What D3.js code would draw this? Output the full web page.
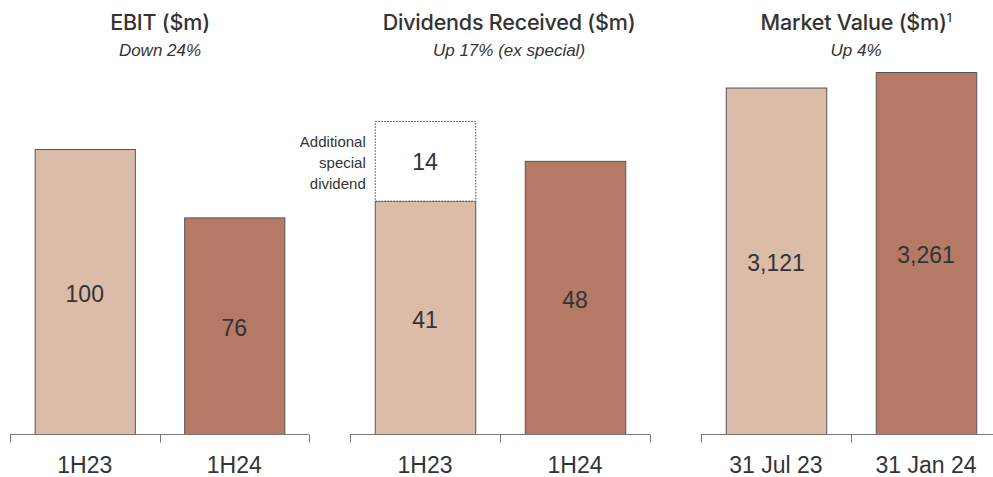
<!DOCTYPE html>
<html>
<head>
<meta charset="utf-8">
<script src="https://cdn.jsdelivr.net/npm/d3@7"></script>
<style>
  html, body { margin: 0; padding: 0; background: #ffffff; }
  svg { display: block; }
</style>
</head>
<body>
<svg id="chart" width="993" height="477"></svg>
<script>
// Panel data
const ebitCategories = ["1H23", "1H24"];
const ebitValues = [100, 76];

const dividendCategories = ["1H23", "1H24"];
const dividendValues = [41, 48];
const specialDividend = [14, 0];

const marketCategories = ["31 Jul 23", "31 Jan 24"];
const marketValues = [3121, 3261];
const marketLabels = ["3,121", "3,261"];

const titles = ["EBIT ($m)", "Dividends Received ($m)", "Market Value ($m)"];
const subtitles = ["Down 24%", "Up 17% (ex special)", "Up 4%"];
const specialNote = ["Additional", "special", "dividend"];

const lightFill = "#dbbca8";
const darkFill = "#b47a66";
const barStroke = "#555555";
const textColor = "#333333";
const bodyFont = "Liberation Sans, Arial, sans-serif";
const titleFont = "Inter, Liberation Sans, sans-serif";

const svg = d3.select("#chart");
const baseline = 434;

const panels = [
  { x0: 10, x1: 309, cats: ebitCategories, vals: ebitValues, labels: ebitValues.map(String), max: 100, top: 149, title: titles[0], sub: subtitles[0], tcx: 160 },
  { x0: 350, x1: 650, cats: dividendCategories, vals: dividendValues, labels: dividendValues.map(String), max: 55, top: 121, title: titles[1], sub: subtitles[1], extra: specialDividend, tcx: 509 },
  { x0: 701, x1: 1001, cats: marketCategories, vals: marketValues, labels: marketLabels, max: 3261, top: 72, title: titles[2], sub: subtitles[2], sup: "1", tcx: 856 }
];

panels.forEach(p => {
  const g = svg.append("g");
  const x = d3.scaleBand().domain(p.cats).range([p.x0, p.x1]).paddingInner(0.33).paddingOuter(0.165);
  const y = d3.scaleLinear().domain([0, p.max]).range([baseline, p.top]);
  const fills = [lightFill, darkFill];

  // bars
  g.selectAll("rect.bar").data(p.cats).join("rect")
    .attr("class", "bar")
    .attr("x", d => x(d) + 0.5)
    .attr("width", x.bandwidth())
    .attr("y", (d, i) => y(p.vals[i]) + 0.5)
    .attr("height", (d, i) => baseline - y(p.vals[i]))
    .attr("fill", (d, i) => fills[i])
    .attr("stroke", barStroke)
    .attr("stroke-width", 1);

  // stacked special dividend (dotted outline)
  if (p.extra) {
    p.cats.forEach((c, i) => {
      if (!p.extra[i]) return;
      const yTop = y(p.vals[i] + p.extra[i]);
      const yBot = y(p.vals[i]);
      g.append("rect")
        .attr("x", x(c) + 0.5)
        .attr("width", x.bandwidth())
        .attr("y", yTop + 0.5)
        .attr("height", yBot - yTop)
        .attr("fill", "#ffffff")
        .attr("stroke", "#444")
        .attr("stroke-width", 1)
        .attr("stroke-dasharray", "1.5,1.5");
      g.append("text")
        .attr("x", x(c) + x.bandwidth() / 2)
        .attr("y", (yTop + yBot) / 2 + 1)
        .attr("dy", "0.36em")
        .attr("text-anchor", "middle")
        .attr("font-family", bodyFont)
        .attr("font-size", 23)
        .attr("fill", textColor)
        .text(p.extra[i]);
      const note = g.append("text")
        .attr("text-anchor", "end")
        .attr("font-family", bodyFont)
        .attr("font-size", 15)
        .attr("fill", textColor);
      specialNote.forEach((t, k) => {
        note.append("tspan").attr("x", x(c) - 9).attr("y", 147 + k * 21).text(t);
      });
    });
  }

  // value labels
  g.selectAll("text.val").data(p.cats).join("text")
    .attr("class", "val")
    .attr("x", d => x(d) + x.bandwidth() / 2)
    .attr("y", (d, i) => (y(p.vals[i]) + baseline) / 2 + 2)
    .attr("dy", "0.36em")
    .attr("text-anchor", "middle")
    .attr("font-family", bodyFont)
    .attr("font-size", 23)
    .attr("fill", textColor)
    .text((d, i) => p.labels[i]);

  // axis
  const axis = g.append("g").attr("transform", `translate(0,${baseline + 0.5})`);
  axis.append("line").attr("x1", p.x0).attr("x2", p.x1).attr("stroke", "#777").attr("stroke-width", 1);
  const step = (p.x1 - p.x0) / p.cats.length;
  d3.range(p.cats.length + 1).forEach(k => {
    const tx = Math.round(p.x0 + k * step) + 0.5;
    axis.append("line").attr("x1", tx).attr("x2", tx).attr("y1", 0).attr("y2", 8).attr("stroke", "#777");
  });
  g.selectAll("text.cat").data(p.cats).join("text")
    .attr("class", "cat")
    .attr("x", d => x(d) + x.bandwidth() / 2)
    .attr("y", 473)
    .attr("text-anchor", "middle")
    .attr("font-family", bodyFont)
    .attr("font-size", 23)
    .attr("fill", textColor)
    .text(d => d);

  // titles
  const title = g.append("text")
    .attr("x", p.tcx)
    .attr("y", 30)
    .attr("text-anchor", "middle")
    .attr("font-family", titleFont)
    .attr("font-weight", 550)
    .attr("font-size", 21.5)
    .attr("letter-spacing", -0.2)
    .attr("fill", textColor)
    .text(p.title);
  if (p.sup) {
    title.append("tspan").attr("font-size", 12).attr("dy", -8).text(p.sup);
  }
  g.append("text")
    .attr("x", p.tcx)
    .attr("y", 56)
    .attr("text-anchor", "middle")
    .attr("font-family", bodyFont)
    .attr("font-style", "italic")
    .attr("font-size", 17)
    .attr("fill", textColor)
    .text(p.sub);
});
</script>
</body>
</html>
